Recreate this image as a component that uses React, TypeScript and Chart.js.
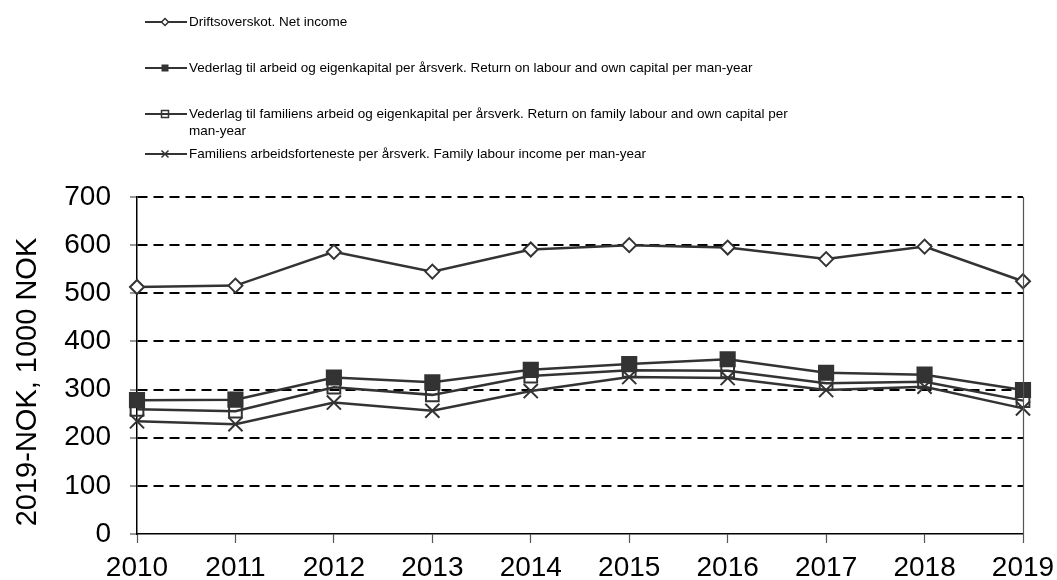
import React, { useEffect, useRef } from "react";
import { Chart, registerables } from "chart.js";

Chart.register(...registerables);

const years = ["2010", "2011", "2012", "2013", "2014", "2015", "2016", "2017", "2018", "2019"];
const netIncome = [513, 516, 586, 545, 591, 600, 595, 571, 597, 525];
const returnLabourCapital = [278, 279, 325, 315, 341, 353, 363, 335, 331, 299];
const returnFamilyLabourCapital = [259, 255, 305, 289, 328, 340, 339, 313, 316, 277];
const familyLabourIncome = [234, 228, 273, 256, 297, 326, 324, 299, 306, 261];
const seriesLabels = [
  "Driftsoverskot. Net income",
  "Vederlag til arbeid og eigenkapital per årsverk. Return on labour and own capital per man-year",
  "Vederlag til familiens arbeid og eigenkapital per årsverk. Return on family labour and own capital per man-year",
  "Familiens arbeidsforteneste per årsverk. Family labour income per man-year",
];
const yTitle = "2019-NOK, 1000 NOK";

const LINE = "#333333";
const FONT = "'Liberation Sans', Arial, sans-serif";

const legendPlugin = {
  id: "customLegend",
  afterDraw(chart: any) {
    const ctx = chart.ctx;
    const rows = [22, 68, 114, 154];
    const styles = ["rectRot", "rect", "rectOpen", "crossRot"];
    ctx.save();
    ctx.font = `13.5px ${FONT}`;
    ctx.textBaseline = "middle";
    ctx.fillStyle = "#000";
    const maxW = 640;
    const textX = 189;
    seriesLabels.forEach((label, i) => {
      const y = rows[i];
      ctx.strokeStyle = LINE;
      ctx.lineWidth = 2;
      ctx.beginPath();
      ctx.moveTo(145, y);
      ctx.lineTo(187, y);
      ctx.stroke();
      const cx = 165;
      const r = 3.5;
      ctx.lineWidth = 1.5;
      if (styles[i] === "rectRot") {
        ctx.fillStyle = "#fff";
        ctx.beginPath();
        ctx.moveTo(cx, y - r);
        ctx.lineTo(cx + r, y);
        ctx.lineTo(cx, y + r);
        ctx.lineTo(cx - r, y);
        ctx.closePath();
        ctx.fill();
        ctx.stroke();
      } else if (styles[i] === "rect") {
        ctx.fillStyle = LINE;
        ctx.fillRect(cx - r, y - r, 2 * r, 2 * r);
      } else if (styles[i] === "rectOpen") {
        ctx.strokeRect(cx - r, y - r, 2 * r, 2 * r);
      } else {
        ctx.beginPath();
        ctx.moveTo(cx - r, y - r);
        ctx.lineTo(cx + r, y + r);
        ctx.moveTo(cx + r, y - r);
        ctx.lineTo(cx - r, y + r);
        ctx.stroke();
      }
      ctx.fillStyle = "#000";
      const words = label.split(" ");
      const lines: string[] = [];
      let cur = "";
      words.forEach((w) => {
        const t = cur ? cur + " " + w : w;
        if (ctx.measureText(t).width > maxW && cur) {
          lines.push(cur);
          cur = w;
        } else cur = t;
      });
      if (cur) lines.push(cur);
      lines.forEach((ln, k) => ctx.fillText(ln, textX, y + k * 17));
    });
    // right border of plot
    const a = chart.chartArea;
    ctx.strokeStyle = "#555";
    ctx.lineWidth = 1.2;
    ctx.beginPath();
    ctx.moveTo(Math.round(a.right) + 0.5, a.top);
    ctx.lineTo(Math.round(a.right) + 0.5, a.bottom);
    ctx.stroke();
    // y axis title
    ctx.translate(28, 382);
    ctx.rotate(-Math.PI / 2);
    ctx.font = `29px ${FONT}`;
    ctx.textAlign = "center";
    ctx.textBaseline = "middle";
    ctx.fillStyle = "#000";
    ctx.fillText(yTitle, 0, 0);
    ctx.restore();
  },
};

export default function App() {
  const ref = useRef<HTMLCanvasElement>(null);
  useEffect(() => {
    document.body.style.margin = "0";
    const ds = (label: string, data: number[], style: string, fill: string, radius: number) => ({
      label,
      data,
      borderColor: LINE,
      borderWidth: 2.5,
      pointStyle: style,
      pointRadius: radius,
      pointBackgroundColor: fill,
      pointBorderColor: LINE,
      pointBorderWidth: 2,
      tension: 0,
    });
    const chart = new Chart(ref.current!, {
      type: "line",
      data: {
        labels: years,
        datasets: [
          ds(seriesLabels[0], netIncome, "rectRot", "#fff", 7),
          ds(seriesLabels[1], returnLabourCapital, "rect", LINE, 10),
          ds(seriesLabels[2], returnFamilyLabourCapital, "rect", "rgba(255,255,255,0)", 9),
          ds(seriesLabels[3], familyLabourIncome, "crossRot", LINE, 10),
        ],
      },
      plugins: [legendPlugin],
      options: {
        animation: false,
        responsive: false,
        maintainAspectRatio: false,
        layout: { padding: { top: 197, left: 0, right: 34, bottom: 0 } },
        plugins: { legend: { display: false }, tooltip: { enabled: false } },
        scales: {
          x: {
            offset: false,
            afterFit: (s: any) => {
              s.height = 46;
              s.paddingLeft = 0;
              s.paddingRight = 0;
            },
            grid: {
              display: true,
              drawOnChartArea: false,
              tickLength: 9,
              tickColor: "#555",
              tickWidth: 1.2,
            },
            border: { color: "#000", width: 1.5 },
            ticks: {
              color: "#000",
              font: { family: FONT, size: 28 },
              padding: 8,
              maxRotation: 0,
              autoSkip: false,
            },
          },
          y: {
            min: 0,
            max: 700,
            afterFit: (s: any) => {
              s.width = 137;
              s.paddingTop = 0;
              s.paddingBottom = 0;
            },
            grid: {
              color: (c: any) => (c.tick && c.tick.value === 0 ? "rgba(0,0,0,0)" : "#000"),
              lineWidth: 2,
              tickLength: 7,
              tickColor: "#555",
              tickWidth: 1.2,
              tickBorderDash: [],
            },
            border: { color: "#000", width: 1.5, dash: [10, 6] },
            ticks: {
              stepSize: 100,
              color: "#000",
              font: { family: FONT, size: 28 },
              padding: 19,
            },
          },
        },
      },
    });
    return () => chart.destroy();
  }, []);
  return <canvas ref={ref} width={1057} height={580} style={{ display: "block" }} />;
}
